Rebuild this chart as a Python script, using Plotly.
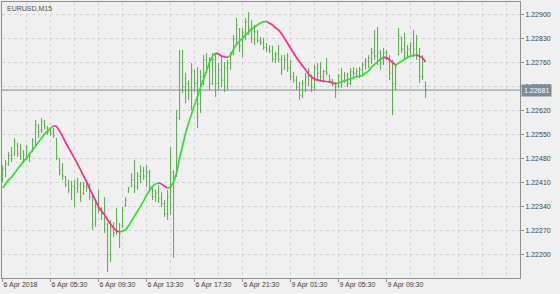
import plotly.graph_objects as go

SYMBOL = "EURUSD,M15"

OPEN = [1.22420,1.22450,1.22465,1.22490,1.22495,1.22520,1.22495,1.22500,1.22480,1.22495,
1.22505,1.22530,1.22575,1.22565,1.22585,1.22570,1.22560,1.22560,1.22540,1.22480,
1.22450,1.22428,1.22410,1.22390,1.22400,1.22395,1.22405,1.22380,1.22400,1.22395,
1.22370,1.22295,1.22340,1.22330,1.22320,1.22290,1.22200,1.22280,1.22265,1.22290,
1.22285,1.22345,1.22385,1.22400,1.22420,1.22400,1.22430,1.22445,1.22430,1.22440,
1.22395,1.22370,1.22380,1.22365,1.22350,1.22320,1.22370,1.22440,1.22430,1.22600,
1.22760,1.22690,1.22700,1.22680,1.22735,1.22700,1.22640,1.22720,1.22770,1.22750,
1.22700,1.22770,1.22700,1.22740,1.22710,1.22745,1.22760,1.22785,1.22830,1.22860,
1.22810,1.22850,1.22880,1.22860,1.22830,1.22850,1.22825,1.22820,1.22805,1.22800,
1.22795,1.22770,1.22785,1.22770,1.22745,1.22770,1.22745,1.22720,1.22710,1.22690,
1.22665,1.22700,1.22720,1.22725,1.22690,1.22745,1.22730,1.22720,1.22735,1.22725,
1.22710,1.22700,1.22690,1.22720,1.22710,1.22725,1.22700,1.22735,1.22730,1.22735,
1.22740,1.22755,1.22765,1.22775,1.22790,1.22780,1.22790,1.22770,1.22790,1.22775,
1.22730,1.22700,1.22785,1.22836,1.22800,1.22790,1.22800,1.22810,1.22800,1.22780,
1.22720,1.22705]

HIGH = [1.22462,1.22477,1.22500,1.22515,1.22541,1.22527,1.22524,1.22506,1.22521,1.22497,
1.22541,1.22594,1.22582,1.22600,1.22594,1.22576,1.22567,1.22570,1.22541,1.22483,
1.22468,1.22430,1.22419,1.22416,1.22419,1.22425,1.22413,1.22413,1.22419,1.22410,
1.22375,1.22360,1.22390,1.22340,1.22369,1.22293,1.22302,1.22296,1.22337,1.22293,
1.22340,1.22369,1.22398,1.22439,1.22477,1.22442,1.22462,1.22457,1.22462,1.22448,
1.22398,1.22390,1.22404,1.22384,1.22360,1.22390,1.22515,1.22448,1.22623,1.22798,
1.22798,1.22731,1.22710,1.22760,1.22740,1.22748,1.22740,1.22783,1.22789,1.22777,
1.22789,1.22789,1.22760,1.22777,1.22763,1.22769,1.22792,1.22842,1.22891,1.22862,
1.22862,1.22891,1.22909,1.22885,1.22871,1.22856,1.22836,1.22833,1.22818,1.22812,
1.22810,1.22792,1.22812,1.22783,1.22783,1.22789,1.22769,1.22734,1.22722,1.22705,
1.22710,1.22731,1.22745,1.22725,1.22754,1.22760,1.22763,1.22740,1.22775,1.22725,
1.22713,1.22705,1.22728,1.22745,1.22734,1.22731,1.22745,1.22748,1.22745,1.22748,
1.22763,1.22775,1.22783,1.22804,1.22856,1.22865,1.22798,1.22804,1.22798,1.22783,
1.22769,1.22754,1.22862,1.22836,1.22848,1.22812,1.22821,1.22856,1.22842,1.22804,
1.22783,1.22705]

LOW = [1.22413,1.22427,1.22460,1.22471,1.22489,1.22486,1.22477,1.22468,1.22477,1.22471,
1.22500,1.22521,1.22541,1.22556,1.22567,1.22550,1.22547,1.22541,1.22477,1.22433,
1.22419,1.22398,1.22381,1.22360,1.22340,1.22381,1.22355,1.22375,1.22384,1.22360,
1.22273,1.22282,1.22322,1.22302,1.22264,1.22150,1.22180,1.22252,1.22258,1.22220,
1.22279,1.22340,1.22381,1.22398,1.22381,1.22390,1.22410,1.22419,1.22398,1.22390,
1.22360,1.22355,1.22352,1.22340,1.22311,1.22302,1.22317,1.22191,1.22427,1.22594,
1.22672,1.22643,1.22652,1.22623,1.22675,1.22570,1.22614,1.22696,1.22731,1.22681,
1.22696,1.22661,1.22681,1.22690,1.22675,1.22681,1.22740,1.22783,1.22812,1.22792,
1.22777,1.22827,1.22842,1.22818,1.22812,1.22818,1.22812,1.22798,1.22792,1.22789,
1.22763,1.22760,1.22763,1.22725,1.22740,1.22734,1.22710,1.22702,1.22681,1.22652,
1.22658,1.22675,1.22693,1.22675,1.22681,1.22710,1.22705,1.22702,1.22725,1.22702,
1.22693,1.22658,1.22687,1.22687,1.22702,1.22690,1.22696,1.22719,1.22722,1.22716,
1.22725,1.22740,1.22745,1.22757,1.22769,1.22754,1.22740,1.22754,1.22769,1.22710,
1.22608,1.22681,1.22783,1.22789,1.22769,1.22775,1.22783,1.22777,1.22769,1.22702,
1.22710,1.22658]

CLOSE = [1.22450,1.22465,1.22490,1.22480,1.22530,1.22495,1.22510,1.22475,1.22515,1.22490,
1.22535,1.22580,1.22560,1.22590,1.22575,1.22560,1.22555,1.22548,1.22485,1.22445,
1.22430,1.22405,1.22390,1.22400,1.22395,1.22410,1.22370,1.22400,1.22395,1.22370,
1.22290,1.22340,1.22330,1.22320,1.22290,1.22200,1.22280,1.22265,1.22300,1.22260,
1.22330,1.22360,1.22395,1.22420,1.22400,1.22430,1.22445,1.22430,1.22440,1.22400,
1.22370,1.22380,1.22365,1.22350,1.22320,1.22370,1.22440,1.22430,1.22600,1.22760,
1.22690,1.22700,1.22680,1.22740,1.22700,1.22640,1.22720,1.22770,1.22750,1.22700,
1.22770,1.22700,1.22740,1.22710,1.22745,1.22760,1.22785,1.22830,1.22870,1.22810,
1.22850,1.22880,1.22860,1.22830,1.22850,1.22825,1.22820,1.22805,1.22800,1.22795,
1.22770,1.22785,1.22770,1.22740,1.22770,1.22745,1.22720,1.22710,1.22690,1.22665,
1.22700,1.22720,1.22735,1.22690,1.22745,1.22730,1.22720,1.22735,1.22730,1.22710,
1.22700,1.22690,1.22720,1.22710,1.22725,1.22700,1.22735,1.22730,1.22735,1.22740,
1.22755,1.22765,1.22775,1.22790,1.22780,1.22790,1.22770,1.22790,1.22775,1.22730,
1.22700,1.22750,1.22840,1.22800,1.22790,1.22800,1.22810,1.22800,1.22780,1.22720,
1.22720,1.22681]

MA = [1.22395,1.22407,1.22419,1.22427,1.22439,1.22451,1.22462,1.22474,1.22483,1.22495,
1.22506,1.22518,1.22530,1.22541,1.22553,1.22562,1.22570,1.22577,1.22575,1.22562,
1.22544,1.22527,1.22512,1.22497,1.22483,1.22465,1.22448,1.22430,1.22413,1.22392,
1.22372,1.22355,1.22340,1.22328,1.22317,1.22302,1.22290,1.22279,1.22270,1.22267,
1.22270,1.22273,1.22285,1.22299,1.22314,1.22328,1.22343,1.22357,1.22375,1.22390,
1.22401,1.22407,1.22410,1.22407,1.22401,1.22395,1.22398,1.22413,1.22439,1.22483,
1.22521,1.22556,1.22585,1.22611,1.22643,1.22667,1.22690,1.22713,1.22740,1.22763,
1.22780,1.22789,1.22786,1.22780,1.22777,1.22776,1.22783,1.22801,1.22815,1.22824,
1.22833,1.22842,1.22850,1.22859,1.22865,1.22871,1.22877,1.22880,1.22881,1.22877,
1.22871,1.22862,1.22856,1.22845,1.22830,1.22815,1.22804,1.22789,1.22775,1.22763,
1.22751,1.22740,1.22728,1.22719,1.22713,1.22710,1.22708,1.22707,1.22706,1.22705,
1.22702,1.22699,1.22702,1.22705,1.22708,1.22713,1.22716,1.22719,1.22720,1.22722,
1.22723,1.22731,1.22737,1.22748,1.22757,1.22766,1.22772,1.22777,1.22775,1.22769,
1.22760,1.22754,1.22760,1.22766,1.22772,1.22777,1.22780,1.22783,1.22784,1.22780,
1.22775,1.22763]

X_TICK_BARS = [0, 16, 32, 48, 64, 80, 96, 112, 128]
X_TICK_LABELS = ["6 Apr 2018", "6 Apr 05:30", "6 Apr 09:30", "6 Apr 13:30",
                 "6 Apr 17:30", "6 Apr 21:30", "9 Apr 01:30", "9 Apr 05:30", "9 Apr 09:30"]
Y_TICKS = [1.22200, 1.22270, 1.22340, 1.22410, 1.22480, 1.22550,
           1.22620, 1.22690, 1.22760, 1.22830, 1.22900]

BG = "#f0f0f0"
GRID = "#d2d2d2"
AXIS = "#8e8e8e"
BAR = "#55a84a"
UP = "#33dd33"
DOWN = "#ff2a8c"
PRICE = "#7d8b9a"
FONT = "Liberation Sans"

n = len(CLOSE)
idx = list(range(n))

fig = go.Figure()
fig.add_trace(go.Ohlc(
    x=idx, open=OPEN, high=HIGH, low=LOW, close=CLOSE,
    increasing=dict(line=dict(color=BAR, width=1)),
    decreasing=dict(line=dict(color=BAR, width=1)),
    tickwidth=0.3, hoverinfo="skip", showlegend=False))

# MA coloured by direction: runs of consecutive rising / falling segments
runs = []
for i in range(1, n):
    rising = MA[i] >= MA[i - 1]
    if runs and runs[-1][0] == rising:
        runs[-1][1].append(i)
    else:
        runs.append([rising, [i - 1, i]])
for rising, pts in runs:
    fig.add_trace(go.Scatter(
        x=pts, y=[MA[p] for p in pts], mode="lines",
        line=dict(color=UP if rising else DOWN, width=1.7),
        hoverinfo="skip", showlegend=False))

last = CLOSE[-1]
fig.add_shape(type="line", xref="paper", x0=0, x1=1, yref="y", y0=last, y1=last,
              line=dict(color=PRICE, width=1), layer="below")
fig.add_annotation(xref="paper", x=1, xanchor="left", xshift=1, yref="y", y=last,
                   text=f"{last:.5f}", showarrow=False, bgcolor=PRICE,
                   font=dict(family=FONT, size=7, color="white"), borderpad=2)
fig.add_annotation(xref="paper", x=0, xanchor="left", xshift=3, yref="paper", y=1,
                   yanchor="top", yshift=-1, text=SYMBOL, showarrow=False,
                   font=dict(family=FONT, size=7, color="#505050"))

fig.update_layout(
    width=560, height=294, margin=dict(l=2, r=40, t=2, b=16),
    paper_bgcolor=BG, plot_bgcolor=BG, showlegend=False,
    font=dict(family=FONT, size=7, color="#404040"),
    xaxis=dict(range=[-0.2, 172.47], rangeslider=dict(visible=False),
               tickvals=X_TICK_BARS, ticktext=X_TICK_LABELS,
               ticklabelposition="outside right", ticks="outside", ticklen=3,
               tickcolor=AXIS, showgrid=True, gridcolor=GRID, griddash="3px,3px",
               minor=dict(dtick=8, tick0=0, showgrid=True, gridcolor=GRID,
                          griddash="3px,3px", ticks=""),
               showline=True, linecolor=AXIS, mirror=True, zeroline=False,
               tickfont=dict(family=FONT, size=7, color="#404040")),
    yaxis=dict(side="right", range=[1.221329, 1.229379], tickvals=Y_TICKS,
               tickformat=".5f", ticks="outside", ticklen=3, tickcolor=AXIS,
               showgrid=True, gridcolor=GRID, griddash="3px,3px",
               showline=True, linecolor=AXIS, mirror=True, zeroline=False,
               tickfont=dict(family=FONT, size=7, color="#404040")),
)

fig.write_html("out.html")
